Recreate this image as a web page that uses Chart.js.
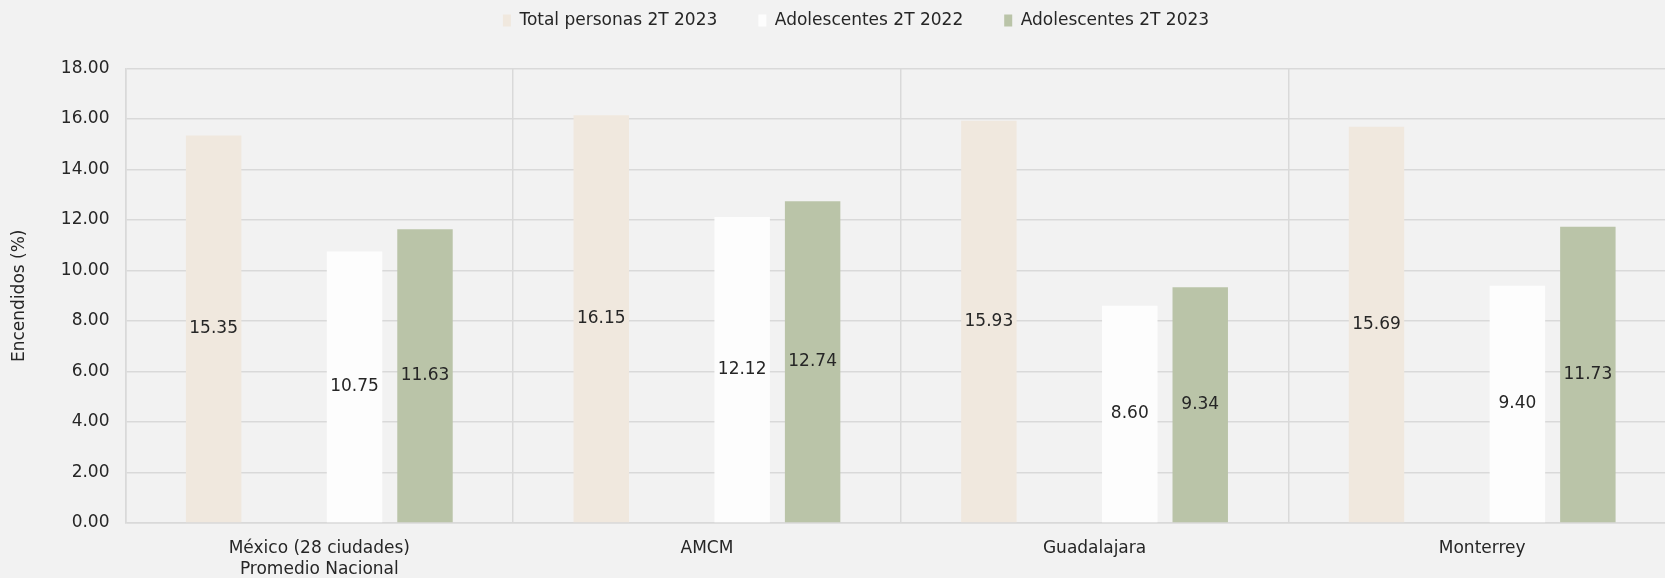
<!DOCTYPE html>
<html>
<head>
<meta charset="utf-8">
<script src="https://cdn.jsdelivr.net/npm/chart.js@4.4.1/dist/chart.umd.min.js"></script>
<style>
html,body{margin:0;padding:0;background:#F2F2F2;overflow:hidden;}
#wrap{width:1712px;height:578px;}
</style>
</head>
<body>
<div id="wrap"><canvas id="c" width="1712" height="578"></canvas></div>
<script>
const categories = [["México (28 ciudades)", "Promedio Nacional"], "AMCM", "Guadalajara", "Monterrey"];
const totalPersonas2023 = [15.35, 16.15, 15.93, 15.69];
const adolescentes2022 = [10.75, 12.12, 8.60, 9.40];
const adolescentes2023 = [11.63, 12.74, 9.34, 11.73];
const emptySlot = [null, null, null, null];
const yTicks = [0, 2, 4, 6, 8, 10, 12, 14, 16, 18];

const FONT = "'DejaVu Sans', sans-serif";
const TXT = '#262626';
const GRID = '#D9D9D9';
const FS = 17;

const valueLabels = {
  id: 'valueLabels',
  afterDatasetsDraw(chart) {
    const ctx = chart.ctx;
    ctx.save();
    ctx.font = FS + 'px ' + FONT;
    ctx.fillStyle = TXT;
    ctx.textAlign = 'center';
    ctx.textBaseline = 'middle';
    chart.data.datasets.forEach((ds, i) => {
      if (!ds.label) return;
      const meta = chart.getDatasetMeta(i);
      meta.data.forEach((bar, j) => {
        const v = ds.data[j];
        if (v == null) return;
        ctx.fillText(v.toFixed(2), bar.x, (bar.y + bar.base) / 2);
      });
    });
    ctx.restore();
  }
};

const yTitle = {
  id: 'yTitle',
  afterDraw(chart) {
    const ctx = chart.ctx;
    const a = chart.chartArea;
    ctx.save();
    ctx.font = FS + 'px ' + FONT;
    ctx.fillStyle = TXT;
    ctx.textAlign = 'center';
    ctx.textBaseline = 'middle';
    ctx.translate(20, (a.top + a.bottom) / 2);
    ctx.rotate(-Math.PI / 2);
    ctx.fillText('Encendidos (%)', 0, 0);
    ctx.restore();
  }
};

const legendHeight = {
  id: 'legendHeight',
  beforeInit(chart) {
    const lg = chart.legend;
    const orig = lg.fit;
    lg.fit = function () { orig.call(this); this.height = 97.5; };
  }
};

new Chart(document.getElementById('c'), {
  type: 'bar',
  data: {
    labels: categories,
    datasets: [
      { label: 'Total personas 2T 2023', data: totalPersonas2023, backgroundColor: '#F0E8DE' },
      { label: '', data: emptySlot, backgroundColor: 'rgba(0,0,0,0)' },
      { label: 'Adolescentes 2T 2022', data: adolescentes2022, backgroundColor: '#FDFDFD' },
      { label: 'Adolescentes 2T 2023', data: adolescentes2023, backgroundColor: '#BAC4A8' }
    ]
  },
  options: {
    responsive: false,
    animation: false,
    devicePixelRatio: 1,
    barPercentage: 0.787,
    categoryPercentage: 0.727,
    layout: { padding: { left: 36, right: 36, top: -29, bottom: 0 } },
    plugins: {
      tooltip: { enabled: false },
      legend: {
        position: 'top',
        labels: {
          filter: (item) => item.text !== '',
          boxWidth: 8,
          boxHeight: 12,
          padding: 41,
          color: TXT,
          font: { family: FONT, size: FS }
        }
      }
    },
    scales: {
      x: {
        grid: { color: GRID, lineWidth: 1.5, drawTicks: false, offset: true },
        border: { color: GRID, width: 1.5 },
        ticks: { color: TXT, font: { family: FONT, size: FS, lineHeight: 1.25 }, padding: 15, maxRotation: 0, autoSkip: false },
        afterFit(scale) { scale.height = 55; }
      },
      y: {
        min: 0,
        max: 18,
        afterBuildTicks(scale) { scale.ticks = yTicks.map(v => ({ value: v })); },
        grid: { color: GRID, lineWidth: 1.5, drawTicks: false },
        border: { color: GRID, width: 1.5 },
        ticks: { color: TXT, font: { family: FONT, size: FS }, padding: 16, callback: (v) => Number(v).toFixed(2) },
        afterFit(scale) { scale.width = 89.5; }
      }
    }
  },
  plugins: [valueLabels, yTitle, legendHeight]
});
</script>
</body>
</html>
